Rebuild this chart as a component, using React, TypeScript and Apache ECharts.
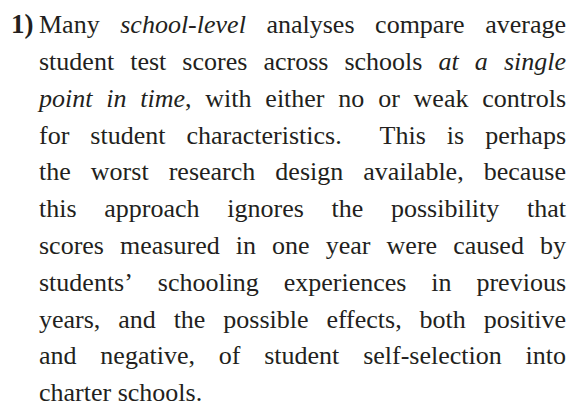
import React, { useEffect, useRef } from 'react';
import * as echarts from 'echarts';

const MARKER = '1)';
// "_" toggles italic; a double space is a wider (sentence) gap
const LINES: string[] = [
  'Many _school-level_ analyses compare average',
  'student test scores across schools _at a single_',
  '_point in time_, with either no or weak controls',
  'for student characteristics.  This is perhaps',
  'the worst research design available, because',
  'this approach ignores the possibility that',
  'scores measured in one year were caused by',
  'students\u2019 schooling experiences in previous',
  'years, and the possible effects, both positive',
  'and negative, of student self-selection into',
  'charter schools.',
];

const W = 571;
const H = 410;
const LEFT = 39;
const RIGHT = 566;
const FIRST_BASE = 33.5;
const STEP = 36.8;
const BASE_SIZE = 26;
const FAMILY = 'serif';
const COLOR = '#231f20';

type Run = { t: string; it: boolean };
type Word = { runs: Run[]; gapBefore: number };

function parse(line: string): Word[] {
  const words: Word[] = [];
  let it = false;
  let cur: Run[] = [];
  let buf = '';
  let spaces = 0;
  const flushRun = () => {
    if (buf) {
      cur.push({ t: buf, it });
      buf = '';
    }
  };
  const flushWord = () => {
    flushRun();
    if (cur.length) {
      words.push({ runs: cur, gapBefore: words.length ? (spaces >= 2 ? 1.8 : 1) : 0 });
      cur = [];
    }
  };
  for (const ch of line) {
    if (ch === '_') {
      flushRun();
      it = !it;
    } else if (ch === ' ') {
      if (cur.length || buf) {
        flushWord();
        spaces = 0;
      }
      spaces++;
    } else {
      buf += ch;
    }
  }
  flushWord();
  return words;
}

export default function App() {
  const ref = useRef<HTMLDivElement>(null);
  useEffect(() => {
    document.body.style.margin = '0';
    if (!ref.current) return;
    const chart = echarts.init(ref.current, undefined, { renderer: 'svg', width: W, height: H });
    const ctx = document.createElement('canvas').getContext('2d')!;
    const measureAt = (size: number, t: string, it: boolean, bold = false) => {
      ctx.font = `${it ? 'italic ' : ''}${bold ? 'bold ' : ''}${size}px ${FAMILY}`;
      return ctx.measureText(t).width;
    };
    const parsed = LINES.map(parse);
    const avail = RIGHT - LEFT;
    let s = 1;
    const sp0 = measureAt(BASE_SIZE, ' ', false);
    parsed.forEach((ws, i) => {
      if (i === parsed.length - 1) return;
      const nat = ws.reduce(
        (a, w) => a + w.runs.reduce((b, r) => b + measureAt(BASE_SIZE, r.t, r.it), 0) + w.gapBefore * sp0,
        0
      );
      s = Math.min(s, avail / nat);
    });
    const SIZE = Math.round(BASE_SIZE * s * 2) / 2;
    const measure = (t: string, it: boolean, bold = false) => measureAt(SIZE, t, it, bold);
    const styleOf = (t: string, it: boolean, bold = false, size = SIZE) => {
      const st: any = {
        text: t,
        fontFamily: FAMILY,
        fontSize: size,
        fill: COLOR,
        verticalAlign: 'middle',
        align: 'left',
      };
      if (it) st.fontStyle = 'italic';
      if (bold) st.fontWeight = 'bold';
      return st;
    };
    const spaceW = measure(' ', false);
    const widthOf = (w: Word) => w.runs.reduce((a, r) => a + measure(r.t, r.it), 0);
    const els: any[] = [];
    const yMid = (base: number, size: number) => base - 0.34 * size;
    els.push({
      type: 'text',
      x: 11,
      y: yMid(FIRST_BASE, 27),
      style: styleOf(MARKER, false, true, 27),
    });
    parsed.forEach((ws, i) => {
      const base = FIRST_BASE + STEP * i;
      const last = i === parsed.length - 1;
      const total = ws.reduce((a, w) => a + widthOf(w), 0);
      const units = ws.reduce((a, w) => a + w.gapBefore, 0);
      const gap = last || units === 0 ? spaceW : (avail - total) / units;
      let x = LEFT;
      ws.forEach((w) => {
        x += w.gapBefore * gap;
        w.runs.forEach((r) => {
          els.push({
            type: 'text',
            x,
            y: yMid(base, SIZE),
            style: styleOf(r.t, r.it),
          });
          x += measure(r.t, r.it);
        });
      });
    });
    chart.setOption({ animation: false, graphic: { elements: els } });
    return () => chart.dispose();
  }, []);
  return <div ref={ref} style={{ width: W, height: H }} />;
}
